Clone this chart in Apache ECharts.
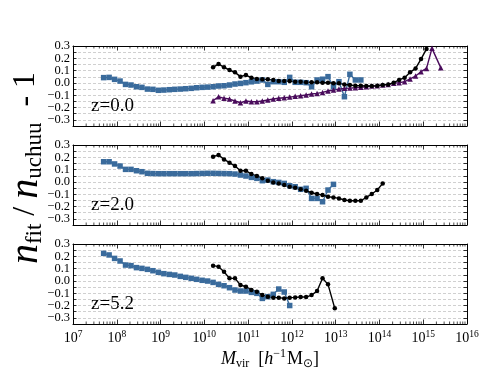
<!DOCTYPE html>
<html><head><meta charset="utf-8">
<script src="https://cdn.jsdelivr.net/npm/echarts@6/dist/echarts.min.js"></script>
<style>html,body{margin:0;padding:0;background:#fff}#c{width:491px;height:382px}</style>
</head><body><div id="c"></div>
<script>
// log10(M) positions of the mass bins
const blueLogM1 = [7.70,7.825,7.95,8.075,8.20,8.325,8.45,8.575,8.70,8.825,8.95,9.075,9.20,9.325,9.45,9.575,9.70,9.825,9.95,10.075,10.20,10.325,10.45,10.575,10.70,10.825,10.95,11.075,11.20,11.325,11.45,11.575,11.70,11.825,11.95,12.075,12.20,12.325,12.45,12.575,12.70,12.825,12.95,13.075,13.20,13.325,13.45,13.575];
const blueVal1 = [0.043,0.045,0.029,0.015,-0.012,-0.017,-0.031,-0.036,-0.050,-0.052,-0.060,-0.058,-0.055,-0.052,-0.050,-0.047,-0.044,-0.039,-0.036,-0.034,-0.031,-0.025,-0.023,-0.017,-0.009,-0.004,0.002,0.009,0.015,0.024,-0.012,0.010,0.010,0.005,0.045,0.005,0.005,0.002,-0.031,0.024,0.030,0.051,-0.031,0.010,-0.112,0.070,0.024,0.024];
const blackLogM1 = [10.20,10.325,10.45,10.575,10.70,10.825,10.95,11.075,11.20,11.325,11.45,11.575,11.70,11.825,11.95,12.075,12.20,12.325,12.45,12.575,12.70,12.825,12.95,13.075,13.20,13.325,13.45,13.575,13.70,13.825,13.95,14.075,14.20,14.325,14.45,14.575,14.70,14.825,14.95,15.075];
const blackVal1 = [0.127,0.154,0.127,0.105,0.086,0.051,0.064,0.043,0.032,0.029,0.029,0.024,0.015,0.015,0.015,0.010,0.010,0.005,0.005,0.005,0.002,0.002,-0.003,-0.003,-0.012,-0.017,-0.023,-0.023,-0.025,-0.025,-0.023,-0.017,-0.012,0.002,0.024,0.043,0.086,0.118,0.194,0.276];
const purpleLogM1 = [10.20,10.325,10.45,10.575,10.70,10.825,10.95,11.075,11.20,11.325,11.45,11.575,11.70,11.825,11.95,12.075,12.20,12.325,12.45,12.575,12.70,12.825,12.95,13.075,13.20,13.325,13.45,13.575,13.70,13.825,13.95,14.075,14.20,14.325,14.45,14.575,14.70,14.825,14.95,15.075,15.20,15.40];
const purpleVal1 = [-0.144,-0.112,-0.125,-0.131,-0.147,-0.161,-0.147,-0.153,-0.153,-0.147,-0.139,-0.131,-0.125,-0.120,-0.115,-0.109,-0.104,-0.098,-0.090,-0.085,-0.077,-0.066,-0.058,-0.050,-0.044,-0.042,-0.039,-0.036,-0.031,-0.025,-0.023,-0.017,-0.012,-0.003,0.002,0.010,0.032,0.056,0.091,0.118,0.281,0.124];

const blueLogM2 = [7.70,7.825,7.95,8.075,8.20,8.325,8.45,8.575,8.70,8.825,8.95,9.075,9.20,9.325,9.45,9.575,9.70,9.825,9.95,10.075,10.20,10.325,10.45,10.575,10.70,10.825,10.95,11.075,11.20,11.325,11.45,11.575,11.70,11.825,11.95,12.075,12.20,12.325,12.45,12.575,12.70,12.825,12.95];
const blueVal2 = [0.164,0.164,0.146,0.129,0.102,0.102,0.091,0.083,0.070,0.068,0.067,0.067,0.067,0.067,0.067,0.067,0.067,0.068,0.069,0.070,0.070,0.069,0.068,0.067,0.064,0.056,0.048,0.037,0.029,0.010,0.015,0.002,-0.004,-0.012,-0.031,-0.039,-0.060,-0.052,-0.134,-0.134,-0.161,-0.066,-0.020];
const blackLogM2 = [10.20,10.325,10.45,10.575,10.70,10.825,10.95,11.075,11.20,11.325,11.45,11.575,11.70,11.825,11.95,12.075,12.20,12.325,12.45,12.575,12.70,12.825,12.95,13.075,13.20,13.325,13.45,13.575,13.70,13.825,13.95,14.075];
const blackVal2 = [0.205,0.219,0.183,0.156,0.129,0.091,0.091,0.064,0.048,0.029,0.010,-0.004,-0.012,-0.025,-0.039,-0.047,-0.060,-0.071,-0.088,-0.098,-0.107,-0.120,-0.126,-0.134,-0.147,-0.153,-0.153,-0.153,-0.126,-0.098,-0.066,-0.012];

const blueLogM3 = [7.70,7.825,7.95,8.075,8.20,8.325,8.45,8.575,8.70,8.825,8.95,9.075,9.20,9.325,9.45,9.575,9.70,9.825,9.95,10.075,10.20,10.325,10.45,10.575,10.70,10.825,10.95,11.075,11.20,11.325,11.45,11.575,11.70,11.825,11.95];
const blueVal3 = [0.224,0.211,0.183,0.162,0.129,0.124,0.108,0.102,0.094,0.083,0.070,0.059,0.053,0.048,0.037,0.029,0.021,0.013,0.005,-0.001,-0.012,-0.028,-0.039,-0.055,-0.074,-0.082,-0.082,-0.093,-0.101,-0.142,-0.128,-0.109,-0.066,-0.090,-0.200];
const blackLogM3 = [10.20,10.325,10.45,10.575,10.70,10.825,10.95,11.075,11.20,11.325,11.45,11.575,11.70,11.825,11.95,12.075,12.20,12.325,12.45,12.575,12.70,12.825,12.98];
const blackVal3 = [0.124,0.116,0.075,0.021,0.021,-0.033,-0.047,-0.074,-0.088,-0.115,-0.128,-0.136,-0.136,-0.142,-0.136,-0.134,-0.131,-0.131,-0.115,-0.082,0.021,-0.028,-0.223];

const panelLabels = ['z=0.0','z=2.0','z=5.2'];

const BLUE = '#3a6b9c', BLACK = '#000000', PURPLE = '#4a0c5c';
const FONT = 'Liberation Serif';

function pts(logm, vals){ return logm.map((m,i)=>[Math.pow(10,m), vals[i]]); }

// minor log ticks (2..9 x 10^n)
const minorTicks = [];
for (let e = 7; e < 16; e++) for (let k = 2; k <= 9; k++) minorTicks.push([k*Math.pow(10,e), 0]);

const tops = [46, 145, 244];
const H = 80;
const grids = tops.map(t => ({left:73, right:24, top:t, height:H}));
const xAxes = [], yAxes = [];
tops.forEach((t,i)=>{
  const base = {type:'log', logBase:10, min:1e7, max:1e16, gridIndex:i,
    axisLine:{show:true, onZero:false, lineStyle:{color:'#000', width:1}},
    axisTick:{show:true, inside:true, length:4.5, lineStyle:{color:'#000', width:0.8}},
    splitLine:{show:false}};
  xAxes.push(Object.assign({}, base, {position:'bottom',
    axisLabel:{show:i===2, margin:5, color:'#000', fontFamily:FONT,
      formatter: v => '{b|10}{e|' + Math.round(Math.log10(v)) + '}',
      rich:{b:{fontSize:14, fontFamily:FONT, color:'#000'}, e:{fontSize:9.5, fontFamily:FONT, color:'#000', padding:[0,0,9,0]}}}}));
  xAxes.push(Object.assign({}, base, {position:'top', axisLabel:{show:false}}));
  const ybase = {type:'value', min:-0.35, max:0.3, interval:0.05, gridIndex:i,
    axisLine:{show:true, onZero:false, lineStyle:{color:'#000', width:1}},
    axisTick:{show:true, inside:true, length:3.5, lineStyle:{color:'#000', width:0.8}}};
  yAxes.push(Object.assign({}, ybase, {position:'left',
    splitLine:{show:true, lineStyle:{type:[3,2], color:'#c4c4c4', width:0.8}},
    axisLabel:{show:true, margin:3, fontSize:12.5, fontFamily:FONT, color:'#000', lineHeight:11,
      formatter: v => {
        const r = Math.round(v*100);
        if (r % 10 !== 0 || r < -30) return '';
        const s = Math.abs(v).toFixed(1);
        return (r < 0 ? '\u2212' : '') + s;
      }}}));
  yAxes.push(Object.assign({}, ybase, {position:'right', splitLine:{show:false}, axisLabel:{show:false}}));
});

function lineSeries(i, data, color, symbol, size){
  return {type:'line', xAxisIndex:2*i, yAxisIndex:2*i, data:data, symbol:symbol, symbolSize:size,
    showSymbol:true, lineStyle:{color:color, width:1.4}, itemStyle:{color:color, borderWidth:0},
    animation:false, silent:true, clip:false};
}

const series = [];
series.push(lineSeries(0, pts(blueLogM1, blueVal1), BLUE, 'rect', 5.5));
series.push(lineSeries(0, pts(purpleLogM1, purpleVal1), PURPLE, 'triangle', 5.5));
series.push(lineSeries(0, pts(blackLogM1, blackVal1), BLACK, 'circle', 4.5));
series.push(lineSeries(1, pts(blueLogM2, blueVal2), BLUE, 'rect', 5.5));
series.push(lineSeries(1, pts(blackLogM2, blackVal2), BLACK, 'circle', 4.5));
series.push(lineSeries(2, pts(blueLogM3, blueVal3), BLUE, 'rect', 5.5));
series.push(lineSeries(2, pts(blackLogM3, blackVal3), BLACK, 'circle', 4.5));
[0,1,2].forEach(i=>{
  series.push({type:'custom', xAxisIndex:2*i, yAxisIndex:2*i, data:minorTicks, silent:true, animation:false,
    encode:{x:0, y:1}, clip:false,
    renderItem:(params, api)=>{
      const x = api.coord([api.value(0), 0])[0];
      const cs = params.coordSys;
      const st = {stroke:'#000', lineWidth:0.7};
      return {type:'group', children:[
        {type:'line', shape:{x1:x, y1:cs.y+cs.height, x2:x, y2:cs.y+cs.height-2.5}, style:st},
        {type:'line', shape:{x1:x, y1:cs.y, x2:x, y2:cs.y+2.5}, style:st}
      ]};
    }});
});

const graphic = [];
panelLabels.forEach((t,i)=>{
  graphic.push({type:'text', left:91, top:tops[i]+51, silent:true,
    style:{text:t, fontSize:19, fontFamily:FONT, fill:'#000'}});
});
graphic.push({type:'text', x:270, y:359, silent:true,
  style:{text:'{i|M}{s|vir}{r|  [}{i|h}{p|\u22121}{r|M}{s2|\u2299}{r|]}', align:'center', verticalAlign:'middle',
    rich:{
      i:{fontSize:18, fontStyle:'italic', fontFamily:FONT, fill:'#000'},
      r:{fontSize:18, fontFamily:FONT, fill:'#000'},
      s:{fontSize:12, fontFamily:FONT, fill:'#000', padding:[9,0,0,0]},
      s2:{fontSize:12, fontFamily:'DejaVu Sans', fill:'#000', padding:[9,0,0,0]},
      p:{fontSize:12, fontFamily:FONT, fill:'#000', padding:[0,1,10,0]}
    }}});
graphic.push({type:'text', x:26, y:168, rotation:Math.PI/2, silent:true,
  style:{text:'{n|n}{s|fit}{r| / }{n|n}{s|uchuu}{r|  - 1}', align:'center', verticalAlign:'middle',
    rich:{
      n:{fontSize:40, fontStyle:'italic', fontFamily:FONT, fill:'#000'},
      r:{fontSize:32, fontFamily:FONT, fill:'#000'},
      s:{fontSize:23, fontFamily:FONT, fill:'#000', padding:[18,0,0,0]}
    }}});

const chart = echarts.init(document.getElementById('c'), null, {renderer:'canvas'});
chart.setOption({animation:false, backgroundColor:'#fff', grid:grids, xAxis:xAxes, yAxis:yAxes, series:series, graphic:graphic});
</script></body></html>
